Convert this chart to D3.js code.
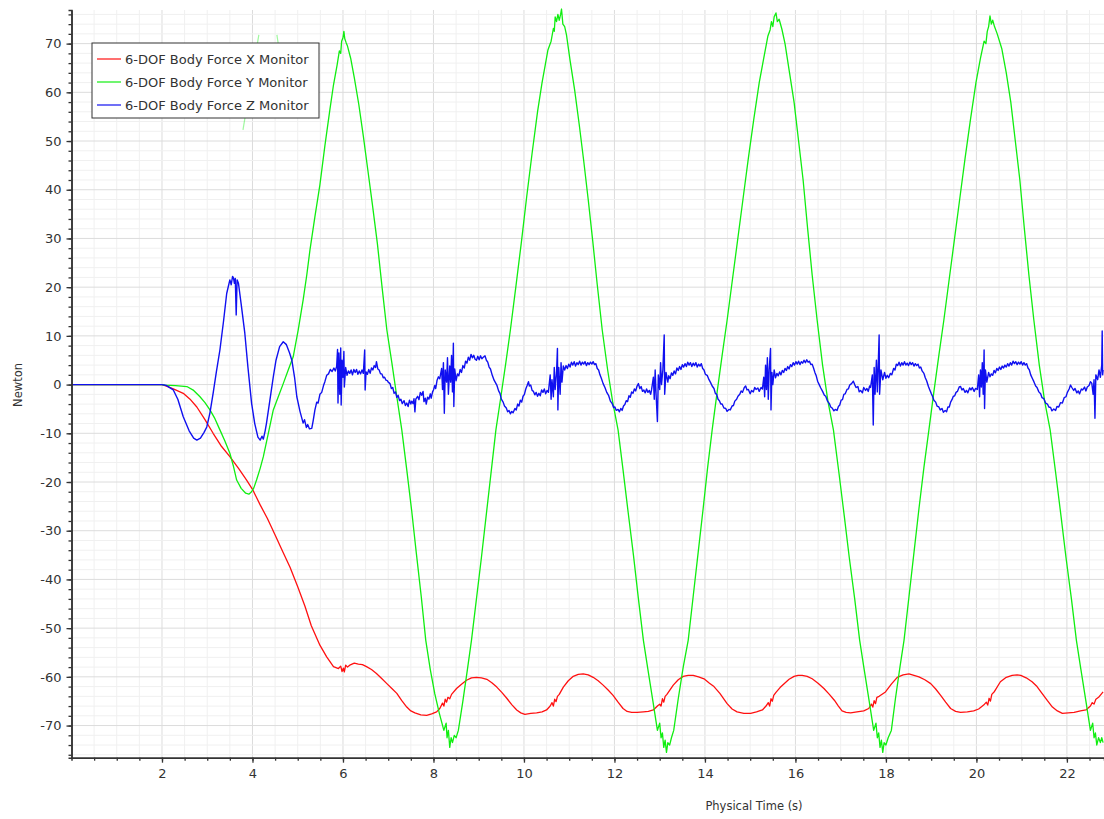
<!DOCTYPE html>
<html>
<head>
<meta charset="utf-8">
<script src="https://cdn.jsdelivr.net/npm/d3@7"></script>
<style>
  body { margin: 0; background: #fff; }
  text { font-family: "DejaVu Sans", sans-serif; fill: #333; }
</style>
</head>
<body>
<div id="chart"></div>
<script>
// [time (s), force (N)]
const forceX = [
  [0,0],[2.0,0],[2.1,-0.3],[2.25,-0.9],[2.47,-1.8],[2.62,-3.0],[2.77,-4.6],[2.95,-7.2],[3.13,-10],[3.3,-12.5],
  [3.5,-14.8],[3.7,-17.3],[3.87,-19.6],[4.0,-21.5],[4.17,-24.7],[4.33,-27.5],[4.5,-30.9],[4.67,-34.3],[4.83,-37.5],
  [5.0,-41.5],[5.16,-45.5],[5.3,-49.5],[5.49,-53.5],[5.64,-55.9],[5.79,-57.9],[5.9,-58.3],[5.95,-57.8],[5.98,-58.9],
  [6.01,-58.2],[6.03,-59],[6.06,-57.6],[6.1,-58],[6.15,-57.6],[6.25,-57.2],[6.34,-57.4],[6.43,-57.5],[6.52,-57.9],
  [6.63,-58.5],[6.74,-59.3],[6.85,-60.3],[6.97,-61.4],[7.08,-62.4],[7.19,-63.4],[7.3,-64.9],[7.41,-66.2],[7.5,-67.0],
  [7.59,-67.4],[7.72,-67.8],[7.85,-67.9],[7.96,-67.6],[8.07,-67.2],[8.14,-66.5],[8.2,-65.4],[8.23,-66],[8.26,-64.6],
  [8.29,-65.2],[8.32,-64.2],[8.36,-64.5],[8.4,-63.6],[8.51,-62.4],[8.62,-61.5],[8.73,-60.7],[8.84,-60.2],[8.95,-60.1],
  [9.06,-60.2],[9.18,-60.5],[9.29,-61.2],[9.4,-62.1],[9.51,-63.2],[9.62,-64.4],[9.73,-65.7],[9.84,-66.8],[9.93,-67.4],
  [10.02,-67.7],[10.15,-67.5],[10.28,-67.4],[10.4,-67.2],[10.5,-66.8],[10.58,-66],[10.62,-65.3],[10.65,-66],[10.68,-64.6],
  [10.71,-65.1],[10.74,-64],[10.78,-63.6],[10.87,-62.1],[10.98,-60.8],[11.09,-59.9],[11.2,-59.5],[11.31,-59.4],
  [11.42,-59.6],[11.53,-60.1],[11.64,-60.8],[11.75,-61.7],[11.86,-62.7],[11.97,-63.8],[12.08,-65.2],[12.19,-66.5],
  [12.28,-67.1],[12.38,-67.3],[12.5,-67.3],[12.64,-67.2],[12.75,-67.1],[12.86,-66.8],[12.95,-66.0],[13.0,-65.6],
  [13.03,-66],[13.06,-64.5],[13.09,-65.2],[13.12,-64],[13.16,-63.6],[13.3,-61.7],[13.41,-60.6],[13.52,-59.9],
  [13.63,-59.7],[13.74,-59.7],[13.86,-60.0],[13.98,-60.4],[14.1,-61.3],[14.2,-62.0],[14.33,-63.4],[14.49,-65.5],
  [14.6,-66.6],[14.71,-67.2],[14.86,-67.5],[15.01,-67.5],[15.14,-67.2],[15.27,-66.8],[15.35,-66.0],[15.4,-65.3],
  [15.43,-66],[15.46,-64.5],[15.49,-65],[15.52,-63.8],[15.57,-63.2],[15.66,-62.2],[15.75,-61.4],[15.86,-60.5],
  [15.97,-59.9],[16.06,-59.7],[16.15,-59.7],[16.26,-59.9],[16.37,-60.4],[16.5,-61.3],[16.63,-62.4],[16.75,-63.6],
  [16.86,-64.8],[16.95,-66.0],[17.03,-67.0],[17.12,-67.3],[17.22,-67.4],[17.36,-67.2],[17.51,-67.0],[17.62,-66.5],
  [17.68,-65.6],[17.71,-66.2],[17.74,-64.9],[17.77,-65.5],[17.8,-64.2],[17.85,-64.0],[17.99,-63.1],[18.12,-61.5],
  [18.25,-60.1],[18.38,-59.6],[18.51,-59.4],[18.62,-59.7],[18.73,-60.0],[18.86,-60.6],[18.99,-61.4],[19.1,-62.5],
  [19.21,-63.8],[19.32,-65.2],[19.43,-66.5],[19.54,-67.1],[19.65,-67.3],[19.8,-67.2],[19.94,-67.0],[20.05,-66.6],
  [20.16,-65.8],[20.22,-65.2],[20.25,-65.8],[20.28,-64.4],[20.31,-65],[20.34,-63.6],[20.4,-63.0],[20.53,-61.0],
  [20.66,-60.1],[20.79,-59.7],[20.9,-59.6],[20.98,-59.7],[21.1,-60.2],[21.23,-61.0],[21.34,-62.0],[21.45,-63.4],
  [21.57,-64.9],[21.68,-66.2],[21.79,-67.0],[21.9,-67.5],[22.03,-67.4],[22.16,-67.3],[22.3,-67.0],[22.42,-66.8],
  [22.52,-66.0],[22.56,-65.3],[22.6,-65.6],[22.64,-64.6],[22.7,-64.2],[22.8,-63.1]
];

const forceY = [
  [0,0],[2.0,0],[2.07,-0.1],[2.3,-0.2],[2.55,-0.4],[2.7,-1.2],[2.84,-2.5],[2.95,-3.7],[3.06,-5.2],[3.17,-7.0],
  [3.28,-9.3],[3.39,-11.6],[3.5,-14.1],[3.58,-16.8],[3.65,-19.6],[3.75,-21.3],[3.85,-22.3],[3.92,-22.5],[3.98,-22],
  [4.03,-21.2],[4.09,-19.6],[4.17,-17.2],[4.24,-14.8],[4.35,-10],[4.46,-5.2],[4.57,-2.5],[4.68,0.2],[4.79,3],
  [4.9,5.7],[5.01,11.2],[5.12,17.4],[5.2,22.5],[5.27,27.6],[5.38,34.5],[5.49,41],[5.6,49],[5.71,56.4],[5.79,61.5],
  [5.87,65.6],[5.92,68.5],[5.95,68],[5.97,70.5],[6.0,71.2],[6.02,72.5],[6.04,71],[6.07,70.2],[6.1,69.5],[6.17,67],
  [6.25,63],[6.35,57.5],[6.45,51],[6.55,44],[6.65,37],[6.76,29],[6.87,19.5],[6.97,11.2],[7.08,4.5],[7.19,-2.5],
  [7.3,-9.3],[7.41,-17.5],[7.52,-26],[7.62,-34.5],[7.73,-43.5],[7.83,-52.5],[7.93,-58.5],[8.03,-63.5],[8.13,-67.5],
  [8.23,-71],[8.28,-69.5],[8.3,-72.5],[8.33,-71],[8.36,-74.5],[8.39,-72.5],[8.42,-73.5],[8.46,-72],[8.5,-72.5],
  [8.55,-71],[8.65,-65],[8.75,-58.5],[8.84,-52.5],[8.95,-44],[9.06,-35.5],[9.17,-26.5],[9.28,-17.5],[9.38,-9.3],
  [9.49,-2.5],[9.6,4.5],[9.7,11.2],[9.82,20],[9.94,29],[10.06,38.5],[10.18,47.5],[10.3,56],[10.4,62],[10.47,65.6],
  [10.53,68.7],[10.6,70.5],[10.65,73.1],[10.67,72.5],[10.69,75.5],[10.72,74.5],[10.75,76],[10.78,74.8],[10.81,76],
  [10.83,77.1],[10.86,74],[10.9,73.5],[10.94,71.8],[11.02,66.5],[11.12,60.5],[11.22,53.5],[11.32,46],[11.42,38],
  [11.52,29.5],[11.62,20.5],[11.73,11.2],[11.85,3],[11.96,-3.5],[12.08,-9.3],[12.19,-17.5],[12.3,-26],[12.42,-35],
  [12.53,-44],[12.64,-52.5],[12.74,-58.5],[12.85,-65],[12.95,-71],[13.0,-69.5],[13.03,-72.5],[13.06,-71.5],
  [13.09,-74.5],[13.12,-73],[13.15,-75.5],[13.18,-73.5],[13.22,-74],[13.26,-72.5],[13.31,-71],[13.41,-64.5],
  [13.52,-58],[13.63,-52.5],[13.74,-43.5],[13.85,-34.5],[13.96,-25.5],[14.06,-17],[14.16,-9.3],[14.27,-1.5],
  [14.38,6],[14.49,13.2],[14.6,21],[14.72,29.5],[14.84,38],[14.96,46.5],[15.08,54.5],[15.2,62],[15.3,67],
  [15.39,71.5],[15.44,72.8],[15.47,74.5],[15.5,73.5],[15.53,75.5],[15.57,76.3],[15.6,74.5],[15.64,75],[15.7,73],
  [15.77,70],[15.87,64],[15.97,58],[16.07,50],[16.17,42],[16.27,32],[16.37,22.5],[16.48,13.2],[16.6,4],
  [16.72,-3.5],[16.84,-9.3],[16.96,-18],[17.08,-27],[17.19,-35.5],[17.31,-44],[17.42,-52.5],[17.52,-58.5],
  [17.63,-65],[17.73,-71],[17.78,-69.5],[17.81,-72.5],[17.84,-71.5],[17.87,-74.5],[17.9,-73],[17.93,-75.5],
  [17.96,-73.5],[18.0,-74],[18.05,-72.5],[18.12,-71],[18.21,-64.5],[18.31,-58],[18.4,-52.5],[18.51,-43.5],
  [18.62,-34.5],[18.73,-25.5],[18.84,-17],[18.95,-9.3],[19.06,-1.5],[19.17,6],[19.28,13.2],[19.39,21],[19.51,29.5],
  [19.63,38],[19.75,46.5],[19.87,54.5],[19.99,62],[20.09,67],[20.17,70.5],[20.21,70],[20.24,72.5],[20.27,73.5],
  [20.3,75.7],[20.33,74],[20.36,74.8],[20.4,73.5],[20.46,72],[20.56,69],[20.66,64],[20.76,58],[20.86,50],[20.96,42],
  [21.06,32],[21.16,22.5],[21.27,13.2],[21.39,4],[21.51,-3.5],[21.63,-9.3],[21.75,-18],[21.87,-27],[21.98,-35.5],
  [22.1,-44],[22.21,-52.5],[22.31,-58.5],[22.42,-65],[22.52,-71],[22.57,-69.5],[22.6,-72.5],[22.63,-71.5],
  [22.66,-74],[22.7,-72.5],[22.74,-73.5],[22.77,-72.5],[22.8,-73.5]
];

const forceZ = [
  [0,0],[2.0,0],[2.1,-0.2],[2.25,-1.1],[2.35,-3],[2.47,-6.6],[2.6,-9.5],[2.7,-11],[2.77,-11.4],[2.85,-11],
  [2.93,-9.8],[2.99,-8.7],[3.06,-5.8],[3.13,-1.8],[3.2,2.5],[3.28,7.1],[3.36,13],[3.43,18.7],[3.5,21.5],[3.53,20.5],
  [3.56,22.2],[3.58,21.9],[3.6,20.8],[3.62,21.8],[3.64,14.3],[3.66,21.5],[3.69,20.8],[3.75,16.5],[3.83,10.6],
  [3.9,3.5],[3.98,-3.8],[4.05,-8],[4.12,-10.8],[4.17,-11.4],[4.21,-10.6],[4.24,-11.2],[4.28,-9.5],[4.31,-7.9],
  [4.38,-3.5],[4.46,1.6],[4.52,5],[4.6,7.8],[4.68,8.8],[4.75,8.2],[4.82,6.5],[4.87,5.0],[4.93,1.5],[4.98,-2.5],
  [5.05,-5.5],[5.12,-7.9],[5.15,-7.2],[5.19,-8.8],[5.22,-8.2],[5.26,-9.1],[5.31,-9],[5.34,-7.5],[5.38,-5.2],
  [5.42,-3.6],[5.45,-3.8],[5.49,-2.0],[5.53,-1.6],[5.57,-0.2],[5.6,0.6],[5.64,1.9],[5.68,2.2],[5.72,3.1],[5.76,2.7],
  [5.8,3.4],[5.83,2.8],[5.86,3.7],[5.88,7.2],[5.89,-3.8],[5.91,6.5],[5.93,-2],[5.95,7.5],[5.96,-4.2],[5.98,5],
  [6.0,1.5],[6.02,6.8],[6.03,-0.5],[6.06,3.5],[6.09,1.9],[6.12,2.8],[6.15,2.3],[6.18,3.0],[6.21,2.0],[6.24,3.1],
  [6.27,2.5],[6.3,3.1],[6.33,2.1],[6.36,2.8],[6.39,2.2],[6.42,3.0],[6.45,2.3],[6.48,7.1],[6.49,-1.1],[6.51,2.6],
  [6.54,2.1],[6.57,3.1],[6.6,2.3],[6.63,3.4],[6.66,3.0],[6.69,3.9],[6.72,3.5],[6.74,4.7],[6.77,3.2],[6.8,3.0],
  [6.83,2.2],[6.86,2.2],[6.89,1.4],[6.92,1.5],[6.95,0.9],[6.98,0.8],[7.0,0.5],[7.04,0.2],[7.07,-0.8],[7.1,-0.6],
  [7.13,-1.8],[7.16,-1.5],[7.19,-2.6],[7.22,-2.2],[7.25,-3.3],[7.28,-3.0],[7.31,-3.9],[7.35,-3.3],[7.38,-4.3],
  [7.41,-3.8],[7.44,-4.5],[7.47,-3.2],[7.5,-4.0],[7.52,-3.4],[7.55,-3.9],[7.57,-2.9],[7.59,-5.6],[7.61,-3.0],
  [7.65,-2.4],[7.68,-3.1],[7.71,-1.6],[7.74,-2.2],[7.77,-1.4],[7.79,-3.5],[7.82,-2.8],[7.84,-4],[7.87,-2.6],
  [7.9,-3.0],[7.93,-1.9],[7.95,-2.8],[7.98,-1.5],[8.0,-1.1],[8.03,-0.2],[8.05,-0.8],[8.08,0.9],[8.11,1.6],
  [8.14,1.2],[8.18,3.3],[8.2,-1],[8.22,4.5],[8.24,-5.9],[8.26,3],[8.29,0.5],[8.31,5.5],[8.33,-2],[8.36,3.8],
  [8.38,0.5],[8.4,6],[8.42,-1.5],[8.44,8.5],[8.45,-4.5],[8.47,3.2],[8.5,0.8],[8.53,2.2],[8.56,1.8],[8.59,3.1],
  [8.62,2.5],[8.65,3.9],[8.68,3.4],[8.71,4.8],[8.74,4.4],[8.77,5.6],[8.8,5.0],[8.83,6.2],[8.86,5.5],[8.89,6.0],
  [8.92,5.2],[8.95,5.0],[8.98,5.8],[9.01,5.1],[9.04,5.9],[9.07,5.3],[9.1,5.6],[9.14,5.9],[9.17,5.0],[9.2,4.6],
  [9.23,3.6],[9.26,3.2],[9.3,1.9],[9.34,0.9],[9.4,-0.1],[9.44,-1.3],[9.47,-1.8],[9.5,-3.0],[9.54,-3.6],[9.57,-4.4],
  [9.61,-4.8],[9.64,-5.6],[9.67,-5.3],[9.7,-6.0],[9.73,-5.5],[9.76,-5.8],[9.8,-4.9],[9.83,-5.2],[9.86,-4.0],
  [9.89,-4.4],[9.92,-3.2],[9.95,-3.6],[9.98,-2.4],[10.01,-2.0],[10.04,-0.9],[10.07,-0.2],[10.1,0.6],[10.12,-0.3],
  [10.15,-0.1],[10.18,-1.2],[10.21,-1.4],[10.24,-2.1],[10.27,-1.6],[10.3,-2.4],[10.33,-1.8],[10.36,-2.3],
  [10.39,-1.1],[10.42,-1.6],[10.45,-0.9],[10.48,-1.9],[10.51,-1.2],[10.54,-1.6],[10.58,2],[10.6,-3],[10.62,1],
  [10.65,-2.5],[10.67,3.5],[10.69,-1],[10.72,2.5],[10.74,7.4],[10.75,-5.2],[10.77,3.5],[10.8,-2],[10.82,4.5],
  [10.84,0.5],[10.87,3.8],[10.9,3.0],[10.93,3.9],[10.96,3.3],[10.99,4.2],[11.02,3.6],[11.05,4.6],[11.08,4.0],
  [11.11,4.7],[11.14,3.8],[11.17,4.5],[11.2,4.1],[11.23,4.8],[11.26,4.0],[11.29,4.6],[11.32,4.2],[11.35,4.7],
  [11.38,3.9],[11.41,4.5],[11.44,4.1],[11.47,4.6],[11.5,4.2],[11.53,4.7],[11.56,4.1],[11.59,4.3],[11.62,3.3],
  [11.65,3.0],[11.68,2.0],[11.71,1.3],[11.75,0.2],[11.79,-0.6],[11.83,-1.6],[11.87,-2.2],[11.91,-3.4],[11.95,-3.9],
  [11.98,-4.7],[12.01,-4.6],[12.04,-5.3],[12.08,-5.1],[12.11,-5.6],[12.14,-4.9],[12.17,-5.3],[12.2,-4.4],
  [12.23,-4.1],[12.26,-3.3],[12.29,-3.5],[12.32,-2.3],[12.35,-2.6],[12.38,-1.5],[12.41,-1.8],[12.44,-0.9],
  [12.47,-1.3],[12.5,-0.3],[12.53,0.2],[12.56,-0.8],[12.59,-0.4],[12.62,-1.4],[12.65,-1.1],[12.68,-1.7],
  [12.71,-0.9],[12.74,-1.6],[12.77,-1.2],[12.8,-2.0],[12.82,-1.1],[12.86,1.5],[12.88,-3],[12.9,3],[12.92,-2],
  [12.95,-7.6],[12.97,2],[13.0,-1],[13.02,4.5],[13.04,0],[13.07,3],[13.1,10.2],[13.11,-2],[13.14,2.5],[13.18,0.5],
  [13.2,1.8],[13.23,1.2],[13.26,2.4],[13.29,1.9],[13.32,2.8],[13.35,2.2],[13.38,3.4],[13.41,2.9],[13.44,3.7],
  [13.47,3.1],[13.5,4.1],[13.53,3.6],[13.56,4.3],[13.59,3.7],[13.62,4.6],[13.65,4.0],[13.68,4.5],[13.71,3.7],
  [13.74,4.4],[13.77,3.9],[13.8,4.5],[13.83,3.6],[13.86,4.2],[13.89,3.8],[13.92,4.3],[13.95,3.3],[13.98,3.0],
  [14.01,2.1],[14.05,1.9],[14.09,1.0],[14.12,0.5],[14.16,-0.3],[14.2,-0.8],[14.23,-1.8],[14.26,-2.0],[14.29,-3.0],
  [14.32,-3.3],[14.35,-4.0],[14.38,-4.0],[14.42,-4.8],[14.46,-4.9],[14.49,-5.5],[14.53,-5.1],[14.56,-5.2],
  [14.6,-4.4],[14.63,-4.3],[14.66,-3.4],[14.7,-3.0],[14.73,-2.4],[14.77,-2.0],[14.8,-1.3],[14.83,-1.6],[14.87,-0.6],
  [14.9,-0.3],[14.93,-1.1],[14.96,-1.0],[15.0,-1.9],[15.03,-1.2],[15.07,-1.5],[15.1,-0.6],[15.13,-1.0],[15.17,-0.7],
  [15.2,-1.4],[15.24,-0.6],[15.27,-0.9],[15.3,1.5],[15.32,-2.5],[15.34,4],[15.36,-1],[15.38,5.5],[15.4,-3],
  [15.42,3],[15.45,7.4],[15.46,-5.2],[15.48,2.5],[15.5,0],[15.53,3],[15.56,1.4],[15.59,2.3],[15.62,1.8],[15.65,2.6],
  [15.68,2.0],[15.71,2.9],[15.74,2.5],[15.77,3.3],[15.8,2.9],[15.83,3.7],[15.86,3.2],[15.89,4.1],[15.92,3.7],
  [15.95,4.5],[15.98,4.0],[16.01,4.7],[16.04,4.2],[16.07,4.8],[16.1,4.1],[16.13,4.7],[16.16,4.4],[16.19,5.0],
  [16.22,4.5],[16.25,5.1],[16.28,4.6],[16.31,4.8],[16.34,4.1],[16.37,4.2],[16.4,3.4],[16.43,2.5],[16.46,1.8],
  [16.49,0.7],[16.52,0.1],[16.56,-0.7],[16.6,-1.4],[16.64,-2.2],[16.67,-2.4],[16.71,-3.4],[16.75,-3.9],[16.78,-4.6],
  [16.81,-4.8],[16.85,-5.4],[16.88,-5.1],[16.92,-5.3],[16.95,-4.5],[16.98,-4.2],[17.01,-3.2],[17.04,-3.1],
  [17.07,-2.0],[17.1,-1.9],[17.14,-1.0],[17.17,-0.9],[17.2,-0.1],[17.24,0.2],[17.28,0.7],[17.31,0.0],[17.34,-0.6],
  [17.38,-0.4],[17.41,-1.5],[17.44,-1.2],[17.48,-1.7],[17.51,-0.6],[17.55,-1.2],[17.58,-0.8],[17.61,-1.4],
  [17.64,-0.3],[17.66,-0.6],[17.7,2],[17.72,-8.3],[17.74,3.5],[17.76,-2],[17.79,5],[17.81,-1.5],[17.83,4],
  [17.85,10.2],[17.86,-2],[17.89,3],[17.93,1],[17.97,2.5],[18.0,1.3],[18.03,1.9],[18.06,1.4],[18.1,2.3],[18.13,2.0],
  [18.17,3.3],[18.2,3.0],[18.23,4.2],[18.26,3.9],[18.29,4.6],[18.32,3.8],[18.35,4.5],[18.38,4.0],[18.41,4.7],
  [18.44,4.0],[18.47,4.4],[18.5,3.9],[18.53,4.6],[18.56,4.1],[18.59,4.5],[18.62,3.8],[18.65,4.3],[18.68,3.9],
  [18.71,4.2],[18.74,3.4],[18.77,3.6],[18.8,2.8],[18.84,2.3],[18.87,1.4],[18.9,0.8],[18.94,-0.4],[18.97,-1.1],
  [19.0,-1.8],[19.03,-2.4],[19.06,-3.2],[19.1,-3.6],[19.13,-4.4],[19.17,-4.6],[19.2,-5.2],[19.24,-4.9],[19.27,-5.7],
  [19.31,-5.3],[19.34,-5.6],[19.37,-4.6],[19.4,-4.6],[19.43,-3.6],[19.46,-3.1],[19.49,-2.4],[19.52,-2.3],
  [19.55,-1.6],[19.58,-1.4],[19.62,-0.5],[19.65,-0.4],[19.68,-1.1],[19.71,-0.8],[19.75,-1.6],[19.78,-1.2],
  [19.81,-1.7],[19.85,-0.7],[19.88,-1.1],[19.91,-0.6],[19.95,-1.4],[19.98,-0.8],[20.02,-1.0],[20.05,2],[20.07,-2.5],
  [20.09,3],[20.11,-0.5],[20.13,4.5],[20.15,-2],[20.17,7.1],[20.18,-4.9],[20.2,3],[20.23,0.5],[20.27,2.5],
  [20.3,1.6],[20.33,2.2],[20.36,1.9],[20.39,2.9],[20.42,2.4],[20.45,3.3],[20.48,2.9],[20.51,3.6],[20.54,3.1],
  [20.57,3.8],[20.6,3.4],[20.63,4.0],[20.66,3.6],[20.69,4.3],[20.72,3.8],[20.75,4.5],[20.78,4.0],[20.81,4.8],
  [20.84,4.3],[20.87,4.7],[20.9,4.1],[20.93,4.6],[20.96,4.2],[20.99,4.7],[21.02,4.0],[21.05,4.5],[21.08,4.0],
  [21.11,4.3],[21.14,3.4],[21.17,3.0],[21.2,2.0],[21.24,1.2],[21.27,0.6],[21.31,-0.3],[21.34,-0.6],[21.38,-1.5],
  [21.42,-1.9],[21.45,-2.7],[21.49,-2.9],[21.53,-3.8],[21.57,-4.0],[21.6,-4.6],[21.64,-4.7],[21.67,-5.4],
  [21.71,-5.0],[21.75,-5.3],[21.78,-4.5],[21.82,-4.6],[21.86,-3.7],[21.9,-3.8],[21.94,-2.7],[21.98,-2.5],
  [22.01,-1.6],[22.05,-0.9],[22.08,-0.1],[22.11,-0.6],[22.15,-1.2],[22.18,-0.8],[22.22,-1.7],[22.25,-1.3],
  [22.28,-1.9],[22.32,-0.9],[22.35,-1.1],[22.39,-0.5],[22.42,-1.3],[22.45,-0.5],[22.49,-0.2],[22.52,0.6],
  [22.55,0.3],[22.58,-2],[22.6,1.0],[22.62,-6.9],[22.64,2],[22.68,1],[22.71,3.0],[22.74,1.5],[22.77,4],
  [22.78,11],[22.79,2],[22.8,3.0]
];

// faint leftover strokes of the Y monitor seen near the legend
const ghostY = [
  [[3.79,52.3],[4.14,71.8]],
  [[4.54,71.8],[4.67,63.6]]
];

const seriesNames = ["6-DOF Body Force X Monitor", "6-DOF Body Force Y Monitor", "6-DOF Body Force Z Monitor"];
const seriesColors = ["#ff1010", "#10ee10", "#1010f0"];
const xTicks = [2, 4, 6, 8, 10, 12, 14, 16, 18, 20, 22];
const yTicks = [-70, -60, -50, -40, -30, -20, -10, 0, 10, 20, 30, 40, 50, 60, 70];

const W = 1104, H = 819;
const plotL = 71.5, plotT = 10, plotR = 1104, plotB = 757.7;

const svg = d3.select("#chart").append("svg")
  .attr("width", W).attr("height", H);

const x = d3.scaleLinear().domain([0, 22.82]).range([plotL, plotR]);
const y = d3.scaleLinear().domain([-76.6, 76.9]).range([plotB, plotT]);

const xMinor = d3.range(0.5, 22.8, 0.5);
const yMinor = d3.range(-76, 77, 2);

// grid
const grid = svg.append("g");
grid.selectAll(".v").data(xMinor).join("line")
  .attr("x1", d => x(d)).attr("x2", d => x(d)).attr("y1", plotT).attr("y2", plotB)
  .attr("stroke", d => d % 2 === 0 ? "#dcdcdc" : "#f0f0f0").attr("stroke-width", 1);
grid.selectAll(".h").data(yMinor).join("line")
  .attr("x1", plotL).attr("x2", plotR).attr("y1", d => y(d)).attr("y2", d => y(d))
  .attr("stroke", d => d % 10 === 0 ? "#dcdcdc" : "#f0f0f0").attr("stroke-width", 1);

// series
const line = d3.line().x(d => x(d[0])).y(d => y(d[1]));

ghostY.forEach(seg => {
  svg.append("path").datum(seg)
    .attr("fill", "none").attr("stroke", "#10ee10").attr("stroke-opacity", 0.4)
    .attr("stroke-width", 1.2).attr("d", line);
});

[forceX, forceY, forceZ].forEach((s, i) => {
  svg.append("path").datum(s)
    .attr("fill", "none")
    .attr("stroke", seriesColors[i])
    .attr("stroke-width", i === 2 ? 1.4 : 1.3)
    .attr("stroke-linejoin", "round")
    .attr("d", line);
});

// axes
const axisStyle = g => {
  g.select(".domain").attr("stroke", "#333").attr("stroke-width", 1.5);
  g.selectAll(".tick line").attr("stroke", "#333").attr("stroke-width", 1.3);
  g.selectAll("text").attr("font-size", 13).attr("fill", "#333")
    .attr("font-family", "DejaVu Sans, sans-serif");
};

svg.append("g").attr("transform", `translate(0,${plotB})`)
  .call(d3.axisBottom(x).tickValues(xMinor).tickSize(3).tickFormat(""))
  .call(axisStyle);
svg.append("g").attr("transform", `translate(0,${plotB})`)
  .call(d3.axisBottom(x).tickValues(xTicks).tickSize(5).tickSizeOuter(0).tickPadding(6).tickFormat(d => String(d)))
  .call(axisStyle);

svg.append("g").attr("transform", `translate(${plotL},0)`)
  .call(d3.axisLeft(y).tickValues(yMinor).tickSize(3).tickFormat(""))
  .call(axisStyle);
svg.append("g").attr("transform", `translate(${plotL},0)`)
  .call(d3.axisLeft(y).tickValues(yTicks).tickSize(5).tickSizeOuter(0).tickPadding(5).tickFormat(d => String(d)))
  .call(axisStyle);

svg.append("text").attr("x", 754).attr("y", 810)
  .attr("text-anchor", "middle").attr("font-size", 11.5).text("Physical Time (s)");
svg.append("text").attr("transform", "translate(22,385) rotate(-90)")
  .attr("text-anchor", "middle").attr("font-size", 11.5).text("Newton");

// legend
const legend = svg.append("g").attr("transform", "translate(92,43)");
legend.append("rect").attr("width", 227).attr("height", 75)
  .attr("fill", "#fff").attr("stroke", "#333").attr("stroke-width", 1);
seriesNames.forEach((name, i) => {
  const g = legend.append("g").attr("transform", `translate(0,${16 + i * 23})`);
  g.append("line").attr("x1", 5).attr("x2", 29).attr("stroke", seriesColors[i]).attr("stroke-width", 1.2);
  g.append("text").attr("x", 33).attr("y", 4.5).attr("font-size", 13).attr("fill", "#222").text(name);
});
</script>
</body>
</html>
